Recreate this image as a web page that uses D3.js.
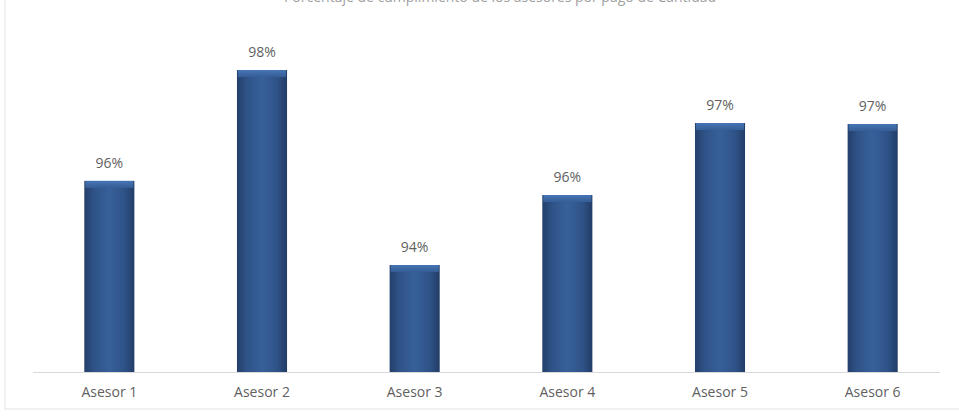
<!DOCTYPE html>
<html>
<head>
<meta charset="utf-8">
<script src="https://cdn.jsdelivr.net/npm/d3@7"></script>
<style>
  html, body { margin: 0; padding: 0; background: #ffffff; }
  svg { display: block; }
</style>
</head>
<body>
<svg id="chart" width="959" height="416"></svg>
<script>
// Compliance per advisor
const categories = ["Asesor 1", "Asesor 2", "Asesor 3", "Asesor 4", "Asesor 5", "Asesor 6"];
const values = [0.9593, 0.9821, 0.9420, 0.9564, 0.9712, 0.9710];
const titleText = "Porcentaje de cumplimiento de los asesores por pago de Cantidad";

const W = 959, H = 416;
const svg = d3.select("#chart");
const font = "'Open Sans', 'Noto Sans', sans-serif";

const x = d3.scaleBand().domain(categories).range([33, 949]).paddingInner(0.672).paddingOuter(0.336);
const y = d3.scaleLinear().domain([0.92, 1.0]).range([372, -17]);

// Frame
svg.append("line").attr("x1", 5).attr("x2", 5).attr("y1", 0).attr("y2", 409)
  .attr("stroke", "#e3e3e3").attr("stroke-width", 1);
svg.append("line").attr("x1", 5).attr("x2", 959).attr("y1", 409).attr("y2", 409)
  .attr("stroke", "#e3e3e3").attr("stroke-width", 1);

// Title (top edge cut off)
svg.append("text").attr("x", 500).attr("y", 2).attr("text-anchor", "middle")
  .attr("font-family", font).attr("font-size", 14).attr("fill", "#a0a0a0")
  .text(titleText);

// Gradients
const defs = svg.append("defs");
const g1 = defs.append("linearGradient").attr("id", "barGrad").attr("x1", "0").attr("x2", "1").attr("y1", "0").attr("y2", "0");
g1.append("stop").attr("offset", "0%").attr("stop-color", "#243f6a");
g1.append("stop").attr("offset", "20%").attr("stop-color", "#2f5388");
g1.append("stop").attr("offset", "50%").attr("stop-color", "#37609a");
g1.append("stop").attr("offset", "80%").attr("stop-color", "#2f5388");
g1.append("stop").attr("offset", "100%").attr("stop-color", "#223c66");
const g2 = defs.append("linearGradient").attr("id", "capGrad").attr("x1", "0").attr("x2", "0").attr("y1", "0").attr("y2", "1");
g2.append("stop").attr("offset", "0%").attr("stop-color", "#4675b5");
g2.append("stop").attr("offset", "100%").attr("stop-color", "#365d95");

// Baseline axis
const axis = d3.axisBottom(x).tickSize(0).tickPadding(15);
const ax = svg.append("g").attr("transform", "translate(0,372)").call(axis);
ax.select(".domain").attr("stroke", "#d9d9d9").attr("d", "M33,0.5H940");
ax.selectAll("text").attr("font-family", font).attr("font-size", 14).attr("fill", "#5f5f5f");

// Bars
const bars = svg.append("g").selectAll("g").data(values).enter().append("g");
bars.append("rect")
  .attr("x", (d, i) => x(categories[i]))
  .attr("y", d => y(d))
  .attr("width", x.bandwidth())
  .attr("height", d => y(0.92) - y(d))
  .attr("fill", "url(#barGrad)");
bars.append("rect")
  .attr("x", (d, i) => x(categories[i]) + 1)
  .attr("y", d => y(d))
  .attr("width", x.bandwidth() - 2)
  .attr("height", 7)
  .attr("fill", "url(#capGrad)");

// Value labels
bars.append("text")
  .attr("x", (d, i) => x(categories[i]) + x.bandwidth() / 2)
  .attr("y", d => y(d) - 13)
  .attr("text-anchor", "middle")
  .attr("font-family", font).attr("font-size", 14).attr("fill", "#5f5f5f")
  .text(d => d3.format(".0%")(d));
</script>
</body>
</html>
